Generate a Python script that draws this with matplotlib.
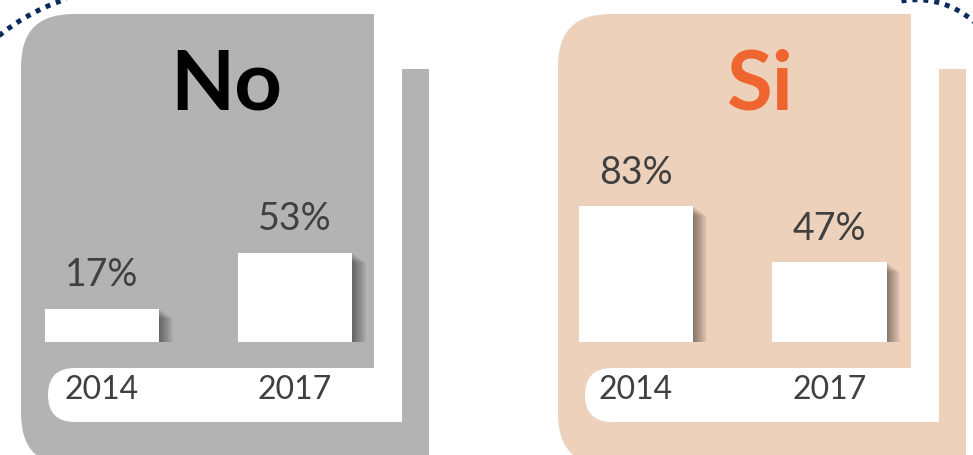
import numpy as np
import matplotlib
matplotlib.use("Agg")
import matplotlib.pyplot as plt
from matplotlib.patches import FancyBboxPatch, Rectangle
from matplotlib import patheffects as pe
from matplotlib.transforms import blended_transform_factory

# ---- data ----
years = ["2014", "2017"]
no_values = [17, 53]
si_values = [83, 47]
panel_titles = ["No", "Si"]

# ---- style ----
W, H = 973, 455
GRAY = "#b3b3b3"
PEACH = "#eed1bb"
TEXT = "#404040"
ORANGE = "#ef6530"
NAVY = "#0d2a5e"
AXIS_MIN = -4.4
AXIS_MAX = 206.4

fig = plt.figure(figsize=(W / 100, H / 100), dpi=100)
bg = fig.add_axes([0, 0, 1, 1])
bg.set_xlim(0, W)
bg.set_ylim(H, 0)
bg.axis("off")


def panel(x0, color):
    bg.add_patch(FancyBboxPatch((x0, 14), 408, 452, boxstyle="round,pad=0,rounding_size=52",
                                fc=color, ec="none", zorder=1))
    bg.add_patch(Rectangle((x0 + 381, 60), 27, 400, fc=color, ec="none", zorder=1))
    bg.add_patch(Rectangle((x0 + 353, 0), 28, 422, fc="white", ec="none", zorder=2))
    bg.add_patch(Rectangle((x0 + 353, 0), 60, 69, fc="white", ec="none", zorder=2))
    bg.add_patch(FancyBboxPatch((x0 + 27, 368), 354, 54, boxstyle="round,pad=0,rounding_size=27",
                                fc="white", ec="none", zorder=2))


panel(21, GRAY)
panel(558, PEACH)

# dotted decorative arcs
t = np.radians(np.linspace(-140, -95, 200))
bg.plot(130 + 207 * np.cos(t), 196 + 207 * np.sin(t), color=NAVY, lw=3.6,
        linestyle=(0, (1, 1.2)), dash_capstyle="butt", zorder=3)
t = np.radians(np.linspace(-100, -25, 200))
bg.plot(916.4 + 86 * np.cos(t), 85.7 + 86 * np.sin(t), color=NAVY, lw=3.6,
        linestyle=(0, (1, 1.2)), dash_capstyle="butt", zorder=3)

shadow = [pe.SimplePatchShadow(offset=(k * 0.7, -k * 0.5), shadow_rgbFace="black", alpha=0.035)
          for k in range(1, 15)] + [pe.Normal()]


def bars(center0, spacing, values, title, title_x, title_color):
    left = center0 - spacing / 2
    ax = fig.add_axes([left / W, (H - 342) / H, 2 * spacing / W, 328 / H])
    ax.patch.set_alpha(0)
    ax.axis("off")
    ax.set_xlim(-0.5, 1.5)
    ax.set_ylim(AXIS_MIN, AXIS_MAX)
    x = np.arange(len(values))
    rects = ax.bar(x, [v - AXIS_MIN for v in values], bottom=AXIS_MIN, width=0.59,
                   color="white", zorder=3)
    for r in rects:
        r.set_path_effects(shadow)
    for i, v in enumerate(values):
        ax.annotate(f"{v}%", (i, v), xytext=(0, 16), textcoords="offset points",
                    ha="center", va="baseline", fontsize=27, color=TEXT, family="Lato")
    tr = blended_transform_factory(ax.transData, fig.transFigure)
    for i, yl in enumerate(years):
        ax.text(i, 1 - 399 / H, yl, transform=tr, ha="center", va="baseline",
                fontsize=23, color=TEXT, family="Lato")
    fig.text(title_x / W, 1 - 110 / H, title, ha="center", va="baseline", fontsize=60,
             fontweight="bold", color=title_color, family="Lato")


bars(102, 193, no_values, panel_titles[0], 226, "black")
bars(636, 193.5, si_values, panel_titles[1], 760, ORANGE)

fig.savefig("out.png", dpi=100)
